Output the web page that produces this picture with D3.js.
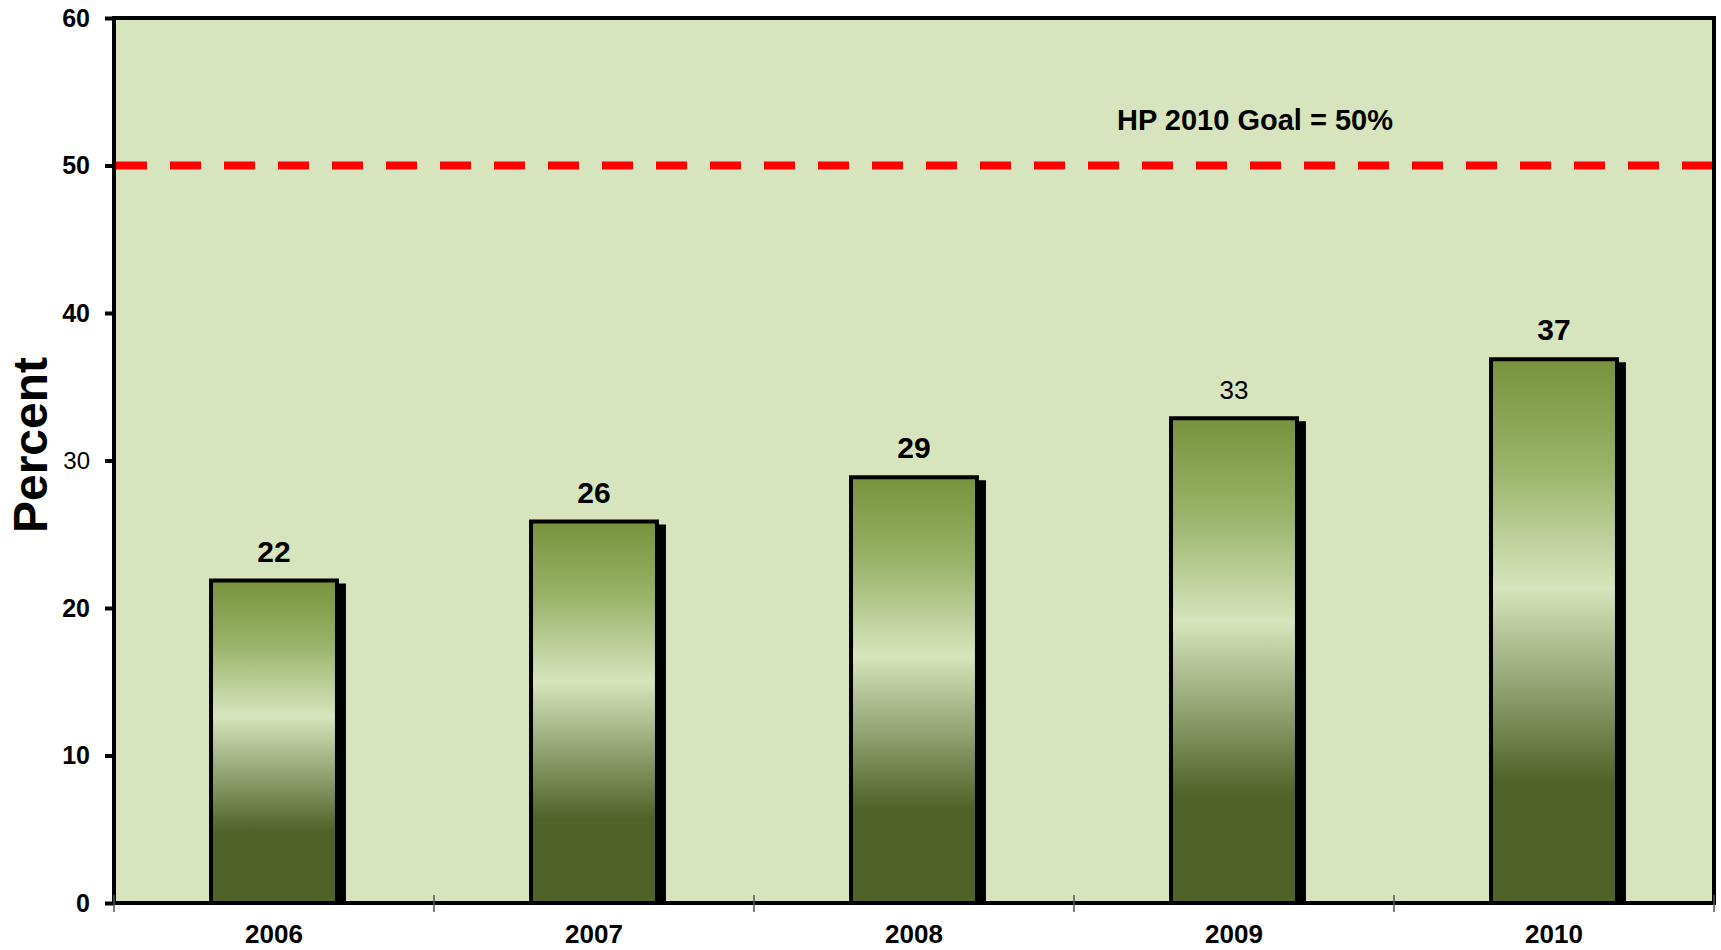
<!DOCTYPE html>
<html>
<head>
<meta charset="utf-8">
<script src="https://cdn.jsdelivr.net/npm/d3@7"></script>
<style>
  body { margin: 0; background: #fff; }
  text { font-family: "Liberation Sans", Arial, sans-serif; }
</style>
</head>
<body>
<svg id="chart" width="1721" height="950"></svg>
<script>
// data
var years = ["2006", "2007", "2008", "2009", "2010"];
var percents = [22, 26, 29, 33, 37];
var yTicks = [0, 10, 20, 30, 40, 50, 60];
var goalValue = 50;
var goalLabel = "HP 2010 Goal = 50%";

// note: "top" is a read-only global in browsers, so use plot* names
var plotLeft = 114, plotRight = 1714, plotTop = 18, plotBottom = 903;

var svg = d3.select("#chart");

var x = d3.scaleBand()
    .domain(years)
    .range([plotLeft, plotRight])
    .paddingInner(0.594)
    .paddingOuter(0.297);

var y = d3.scaleLinear()
    .domain([0, 60])
    .range([plotBottom, plotTop]);

// bar gradient
var grad = svg.append("defs").append("linearGradient")
    .attr("id", "barGrad")
    .attr("x1", 0).attr("y1", 0)
    .attr("x2", 0).attr("y2", 1);
grad.append("stop").attr("offset", "0").attr("stop-color", "#77933C");
grad.append("stop").attr("offset", "0.2").attr("stop-color", "#9AB46A");
grad.append("stop").attr("offset", "0.42").attr("stop-color", "#D7E4BD");
grad.append("stop").attr("offset", "0.6").attr("stop-color", "#93A372");
grad.append("stop").attr("offset", "0.78").attr("stop-color", "#4F6228");
grad.append("stop").attr("offset", "1").attr("stop-color", "#4F6228");

// plot area
svg.append("rect")
    .attr("x", plotLeft).attr("y", plotTop)
    .attr("width", plotRight - plotLeft).attr("height", plotBottom - plotTop)
    .attr("fill", "#D7E4BD");

// goal line
svg.append("line")
    .attr("x1", plotLeft + 2).attr("x2", plotRight - 2)
    .attr("y1", y(goalValue)).attr("y2", y(goalValue))
    .attr("stroke", "#FF0000")
    .attr("stroke-width", 8)
    .attr("stroke-dasharray", "31,23");

svg.append("text")
    .attr("x", 1255).attr("y", 130)
    .attr("text-anchor", "middle")
    .style("font-size", "29px")
    .style("font-weight", "bold")
    .text(goalLabel);

// bars
var bars = svg.selectAll(".bar")
    .data(years)
    .enter().append("g")
    .attr("class", "bar");

bars.append("rect")
    .attr("x", function (d) { return x(d) + 7; })
    .attr("y", function (d, i) { return y(percents[i]) + 5; })
    .attr("width", x.bandwidth())
    .attr("height", function (d, i) { return plotBottom - y(percents[i]) - 5; })
    .attr("fill", "#000");

bars.append("rect")
    .attr("x", function (d) { return x(d) + 2; })
    .attr("y", function (d, i) { return y(percents[i]) + 2; })
    .attr("width", x.bandwidth() - 4)
    .attr("height", function (d, i) { return plotBottom - y(percents[i]) - 2; })
    .attr("fill", "url(#barGrad)")
    .attr("stroke", "#000")
    .attr("stroke-width", 4);

bars.append("text")
    .attr("x", function (d) { return x(d) + x.bandwidth() / 2; })
    .attr("y", function (d, i) { return y(percents[i]) - 17; })
    .attr("text-anchor", "middle")
    .style("font-size", function (d, i) { return percents[i] == 33 ? "26px" : "30px"; })
    .style("font-weight", function (d, i) { return percents[i] == 33 ? "normal" : "bold"; })
    .text(function (d, i) { return percents[i]; });

// frame
svg.append("rect")
    .attr("x", plotLeft).attr("y", plotTop)
    .attr("width", plotRight - plotLeft).attr("height", plotBottom - plotTop)
    .attr("fill", "none")
    .attr("stroke", "#000")
    .attr("stroke-width", 4);

// y axis
var yAxis = svg.append("g")
    .attr("transform", "translate(" + plotLeft + ",0)")
    .call(d3.axisLeft(y).tickValues(yTicks).tickSize(9).tickPadding(15));
yAxis.select(".domain").remove();
yAxis.selectAll(".tick line").attr("stroke", "#000").attr("stroke-width", 4);
yAxis.selectAll(".tick text")
    .attr("fill", "#000")
    .style("font-size", function (d) { return d == 30 ? "24px" : "25px"; })
    .style("font-weight", function (d) { return d == 30 ? "normal" : "bold"; });

// x axis ticks between categories
var bounds = years.map(function (d) { return x(d) - x.step() * x.paddingInner() / 2; });
bounds.push(plotRight);
svg.selectAll(".xtick")
    .data(bounds)
    .enter().append("line")
    .attr("x1", function (d) { return d; }).attr("x2", function (d) { return d; })
    .attr("y1", 895).attr("y2", 912)
    .attr("stroke", "#555")
    .attr("stroke-width", 1.5);

svg.selectAll(".xlabel")
    .data(years)
    .enter().append("text")
    .attr("x", function (d) { return x(d) + x.bandwidth() / 2; })
    .attr("y", 943)
    .attr("text-anchor", "middle")
    .style("font-size", "26px")
    .style("font-weight", "bold")
    .text(function (d) { return d; });

// y title
svg.append("text")
    .attr("transform", "translate(47,445) rotate(-90)")
    .attr("text-anchor", "middle")
    .style("font-size", "48px")
    .style("font-weight", "bold")
    .text("Percent");
</script>
</body>
</html>
